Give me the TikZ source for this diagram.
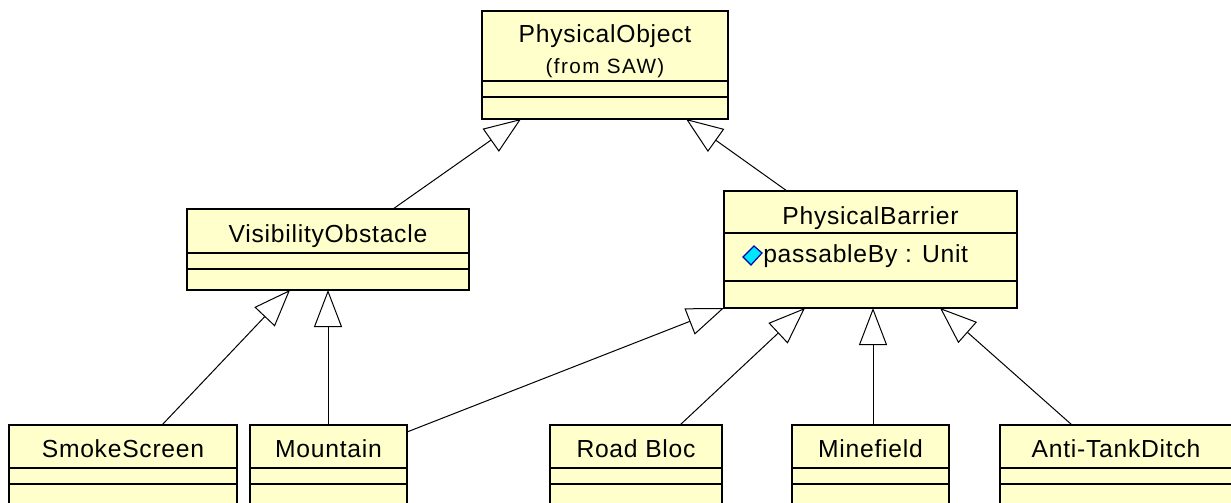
\documentclass[tikz,border=0pt]{standalone}
\usepackage{fontspec}
\setmainfont{Liberation Sans}[LetterSpace=3]
\newfontfamily\smallfont{Liberation Sans}[LetterSpace=7]
\usetikzlibrary{arrows.meta,calc}
\definecolor{clsfill}{RGB}{255,255,204}
\definecolor{attrfill}{RGB}{0,230,255}
\definecolor{attrdraw}{RGB}{0,0,170}
\tikzset{
  cls/.style 2 args={draw=black, fill=clsfill, line width=1.1pt, inner sep=0pt, outer sep=0pt,
    anchor=north west, rectangle, minimum width=#1*0.75pt, minimum height=#2*0.75pt},
  divider/.style={draw=black, line width=1.1pt},
  lbl/.style={inner sep=0pt, anchor=base, font=\fontsize{18.5}{20}\selectfont},
  small/.style={inner sep=0pt, anchor=base, font=\smallfont\fontsize{15.5}{17}\selectfont},
  gen/.style={draw=black, line width=0.75pt,
    -{Triangle[fill=white, length=27.75pt, width=21pt, line width=0.75pt]}}
}
\begin{document}
\begin{tikzpicture}[x=0.75pt, y=-0.75pt]
\useasboundingbox (0,0) rectangle (1231,503);
\fill[white] (0,0) rectangle (1231,503);
\clip (0,0) rectangle (1231,503);

% PhysicalObject
\node[cls={246}{108}] (po) at (482,11) {};
\draw[divider] ($(po.north west)+(0,70)$) -- ($(po.north east)+(0,70)$);
\draw[divider] ($(po.north west)+(0,86)$) -- ($(po.north east)+(0,86)$);
\node[lbl] (po-name) at ($(po.north)+(0,32)$) {PhysicalObject};
\node[small] (po-from) at ($(po.north)+(0,63)$) {(from SAW)};

% VisibilityObstacle
\node[cls={282}{81}] (vo) at (187,209) {};
\draw[divider] ($(vo.north west)+(0,44)$) -- ($(vo.north east)+(0,44)$);
\draw[divider] ($(vo.north west)+(0,60)$) -- ($(vo.north east)+(0,60)$);
\node[lbl] (vo-name) at ($(vo.north)+(0,33)$) {VisibilityObstacle};

% PhysicalBarrier
\node[cls={293}{117}] (pb) at (724,191) {};
\draw[divider] ($(pb.north west)+(0,42)$) -- ($(pb.north east)+(0,42)$);
\draw[divider] ($(pb.north west)+(0,90)$) -- ($(pb.north east)+(0,90)$);
\node[lbl] (pb-name) at ($(pb.north)+(0,33)$) {PhysicalBarrier};
\node[lbl, anchor=base west] (pb-attr) at ($(pb.north west)+(39,71)$) {passableBy : Unit};
\filldraw[fill=attrfill, draw=attrdraw, line width=0.9pt]
  (743,257) -- (754,246) -- (762,253) -- (751,265) -- cycle;

% bottom row
\node[cls={228}{100}] (ss) at (9,425) {};
\node[cls={157}{100}] (mt) at (250,425) {};
\node[cls={172}{100}] (rb) at (550,425) {};
\node[cls={157}{100}] (mf) at (792,425) {};
\node[cls={232}{100}] (at) at (1000,425) {};
\foreach \b in {ss,mt,rb,mf,at}{
  \draw[divider] ($(\b.north west)+(0,43)$) -- ($(\b.north east)+(0,43)$);
  \draw[divider] ($(\b.north west)+(0,59)$) -- ($(\b.north east)+(0,59)$);
}
\node[lbl] (ss-name) at ($(ss.north)+(0,32)$) {SmokeScreen};
\node[lbl] (mt-name) at ($(mt.north)+(0,32)$) {Mountain};
\node[lbl] (rb-name) at ($(rb.north)+(0,32)$) {Road Bloc};
\node[lbl] (mf-name) at ($(mf.north)+(0,32)$) {Minefield};
\node[lbl] (at-name) at ($(at.north)+(0,32)$) {Anti-TankDitch};

% attachment points
\coordinate (vo-top) at ($(vo.north west)+(206,0)$);
\coordinate (po-l) at ($(po.south west)+(39,0)$);
\coordinate (pb-top) at ($(pb.north west)+(63,0)$);
\coordinate (po-r) at ($(po.south west)+(204,0)$);
\coordinate (ss-top) at ($(ss.north west)+(153,0)$);
\coordinate (vo-l) at ($(vo.south west)+(103,0)$);
\coordinate (mt-top) at ($(mt.north west)+(78,0)$);
\coordinate (vo-r) at ($(vo.south west)+(141,0)$);
\coordinate (mt-r) at ($(mt.north east)+(0,7)$);
\coordinate (rb-top) at ($(rb.north west)+(130,0)$);
\coordinate (pb-b1) at ($(pb.south west)+(81,0)$);
\coordinate (mf-top) at ($(mf.north west)+(81,0)$);
\coordinate (pb-b2) at ($(pb.south west)+(149,0)$);
\coordinate (at-top) at ($(at.north west)+(72,0)$);
\coordinate (pb-b3) at ($(pb.south west)+(216,0)$);

% generalizations
\draw[gen] (vo-top) -- (po-l);
\draw[gen] (pb-top) -- (po-r);
\draw[gen] (ss-top) -- (vo-l);
\draw[gen] (mt-top) -- (vo-r);
\draw[gen] (mt-r) -- (pb.south west);
\draw[gen] (rb-top) -- (pb-b1);
\draw[gen] (mf-top) -- (pb-b2);
\draw[gen] (at-top) -- (pb-b3);
\end{tikzpicture}
\end{document}
